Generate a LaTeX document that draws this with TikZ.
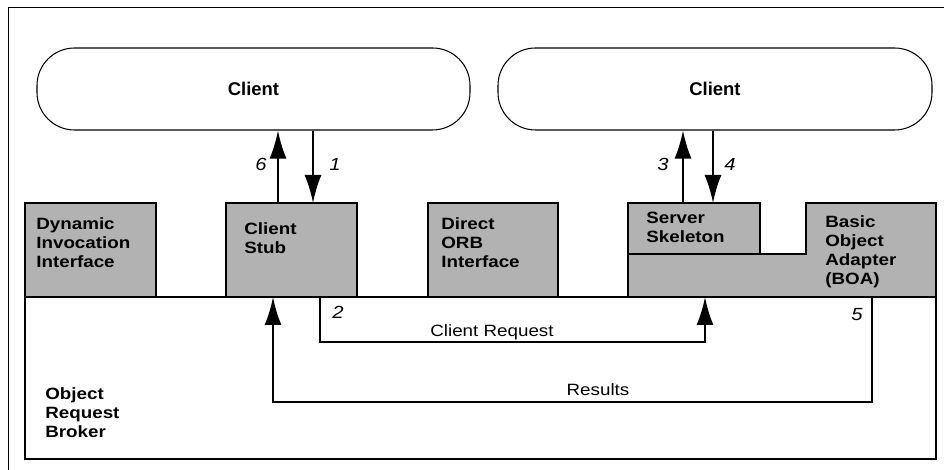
\documentclass[tikz,border=0pt]{standalone}
\usepackage{fontspec}
\setmainfont{Liberation Sans}[FakeStretch=1.15]
\newfontfamily\pillfont{Liberation Sans}
\usetikzlibrary{arrows.meta}
\begin{document}
\begin{tikzpicture}[line join=miter,
  pill/.style={draw,line width=.6pt,rounded corners=.75cm,minimum width=8.66cm,minimum height=1.64cm,font=\pillfont\fontsize{10.5}{12}\selectfont\bfseries},
  graybox/.style={draw,line width=1.1pt,fill=gray!60,inner sep=0pt,outer sep=0pt,minimum height=1.88cm},
  boxtext/.style={anchor=north west,inner sep=0pt,align=left,font=\fontsize{9.3}{10.8}\selectfont\bfseries},
  num/.style={anchor=base,inner sep=0pt,font=\fontsize{10}{12}\selectfont\itshape},
  linelabel/.style={anchor=base,inner sep=0pt,font=\fontsize{9.3}{11}\selectfont},
  flow/.style={line width=1.1pt,-{Latex[length=5.6mm,width=3.4mm]}}]
  \useasboundingbox (0,0) rectangle (18.88,9.38);
  % page frame, cut at right and bottom
  \draw[line width=.5pt] (0.16,-0.2) -- (0.16,9.24) -- (19.1,9.24);

  \node[pill] (clientL) at (5.07,7.60) {Client};
  \node[pill,minimum width=8.68cm] (clientR) at (14.30,7.60) {Client};

  \node[draw,line width=1.1pt,inner sep=0pt,outer sep=0pt,minimum width=18.22cm,minimum height=3.24cm] (orb) at (9.61,1.82) {};
  \node[graybox,minimum width=2.62cm] (dii) at (1.81,4.38) {};
  \node[graybox,minimum width=2.62cm] (stub) at (5.83,4.38) {};
  \node[graybox,minimum width=2.60cm] (dorb) at (9.86,4.38) {};
  \draw[line width=1.1pt,fill=gray!60] (12.56,3.44) -- (12.56,4.30) -- (16.12,4.30) -- (16.12,5.32) -- (18.72,5.32) -- (18.72,3.44) -- cycle;
  \node[graybox,minimum width=2.64cm,minimum height=1.02cm] (skel) at (13.88,4.81) {};

  \node[boxtext] (diitext) at (0.72,5.04) {Dynamic\\Invocation\\Interface};
  \node[boxtext] (stubtext) at (4.88,4.94) {Client\\Stub};
  \node[boxtext] (dorbtext) at (8.82,5.04) {Direct\\ORB\\Interface};
  \node[boxtext] (skeltext) at (12.92,5.14) {Server\\Skeleton};
  \node[boxtext] (boatext) at (16.50,5.08) {Basic\\Object\\Adapter\\(BOA)};
  \node[boxtext] (orbtext) at (0.90,1.64) {Object\\Request\\Broker};

  % calls between clients and stubs
  \coordinate (up6) at (5.56,5.32);
  \coordinate (dn1) at (6.26,5.32);
  \coordinate (up3) at (13.66,5.32);
  \coordinate (dn4) at (14.26,5.32);
  \draw[flow] (up6) -- (up6 |- clientL.south);
  \draw[flow] (dn1 |- clientL.south) -- (dn1);
  \draw[flow] (up3) -- (up3 |- clientR.south);
  \draw[flow] (dn4 |- clientR.south) -- (dn4);
  \node[num] (n6) at (5.22,5.96) {6};
  \node[num] (n1) at (6.70,5.96) {1};
  \node[num] (n3) at (13.26,5.96) {3};
  \node[num] (n4) at (14.60,5.96) {4};

  % request and results inside the ORB
  \coordinate (reqA) at (6.40,3.44);
  \coordinate (reqB) at (14.10,3.44);
  \coordinate (resA) at (17.44,3.44);
  \coordinate (resB) at (5.46,3.44);
  \draw[flow] (reqA) -- ++(0,-0.90) -| (reqB);
  \draw[flow] (resA) -- ++(0,-2.10) -| (resB);
  \node[num] (n2) at (6.76,3.00) {2};
  \node[num] (n5) at (17.14,2.98) {5};
  \node[linelabel] (reqlabel) at (9.84,2.64) {Client Request};
  \node[linelabel] (reslabel) at (11.96,1.48) {Results};
\end{tikzpicture}
\end{document}
